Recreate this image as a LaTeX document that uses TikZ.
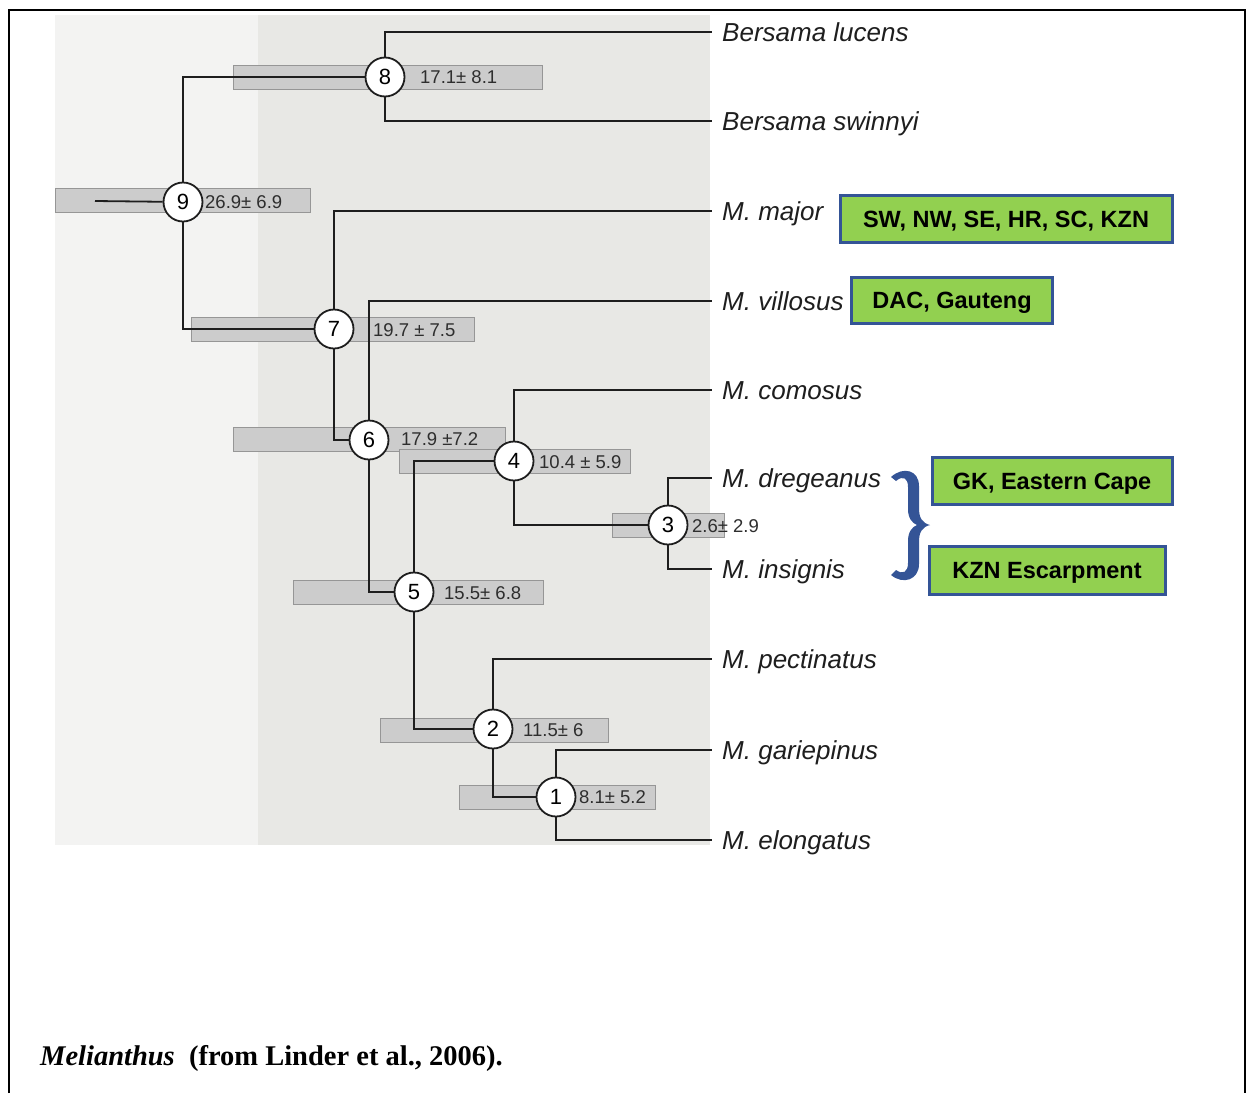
\documentclass[tikz,border=0pt]{standalone}
\usepackage{fontspec}
\setmainfont{Liberation Sans}
\newfontfamily\capfont{Liberation Serif}
\definecolor{panelA}{RGB}{243,243,242}
\definecolor{panelB}{RGB}{232,232,229}
\definecolor{barfill}{RGB}{204,204,204}
\definecolor{barline}{RGB}{150,150,150}
\definecolor{regfill}{RGB}{146,208,80}
\definecolor{regline}{RGB}{52,84,150}
\definecolor{ink}{RGB}{30,30,30}
\begin{document}
\begin{tikzpicture}[x=1pt,y=-1pt,
  branch/.style={line width=1.8pt, draw=ink},
  agebar/.style={draw=barline, fill=barfill, line width=1pt, anchor=west,
    minimum height=24pt, inner sep=0pt},
  clade/.style={circle, draw=ink, fill=white, line width=1.8pt,
    minimum size=39pt, inner sep=0pt, font=\fontsize{22}{22}\selectfont},
  age/.style={anchor=west, inner sep=0pt, text=black!82,
    font=\fontsize{18.5}{20}\selectfont},
  taxon/.style={anchor=west, inner xsep=10pt, inner ysep=0pt,
    text height=19pt, text depth=0pt, text=ink,
    font=\fontsize{26}{30}\selectfont\itshape},
  region/.style={draw=regline, fill=regfill, line width=3pt, inner sep=0pt,
    text height=17pt, text depth=0pt,
    font=\fontsize{23.5}{25}\selectfont\bfseries},
]
\useasboundingbox (0,0) rectangle (1247,1093);
\fill[white] (0,0) rectangle (1247,1093);

% shaded panel behind the tree
\fill[panelA] (55,15) rectangle (710,845);
\fill[panelB] (258,15) rectangle (710,845);

% frame
\draw[line width=2.5pt, black] (9,1093) -- (9,10) -- (1245,10) -- (1245,1093);

% age intervals
\node[agebar, minimum width=255pt] (b9) at (55,200.5) {};
\node[agebar, minimum width=309pt] (b8) at (233,77) {};
\node[agebar, minimum width=283pt] (b7) at (191,329) {};
\node[agebar, minimum width=272pt] (b6) at (233,439.5) {};
\node[agebar, minimum width=231pt] (b4) at (399,461) {};
\node[agebar, minimum width=112pt] (b3) at (612,525.5) {};
\node[agebar, minimum width=250pt] (b5) at (293,592.5) {};
\node[agebar, minimum width=228pt] (b2) at (380,730) {};
\node[agebar, minimum width=196pt] (b1) at (459,797.5) {};

% clade nodes
\node[clade] (n9) at (183,202) {9};
\node[clade] (n8) at (385,77) {8};
\node[clade] (n7) at (334,329) {7};
\node[clade] (n6) at (369,440) {6};
\node[clade] (n5) at (414,592) {5};
\node[clade] (n4) at (514,461) {4};
\node[clade] (n3) at (668,525) {3};
\node[clade] (n2) at (493,729) {2};
\node[clade] (n1) at (556,797) {1};

% ages
\node[age] (a9) at (205,202) {26.9± 6.9};
\node[age] (a8) at (420,77) {17.1± 8.1};
\node[age] (a7) at (373,330) {19.7 ± 7.5};
\node[age] (a6) at (401,439) {17.9 ±7.2};
\node[age] (a4) at (539,462) {10.4 ± 5.9};
\node[age] (a3) at (692,526) {2.6± 2.9};
\node[age] (a5) at (444,593) {15.5± 6.8};
\node[age] (a2) at (523,730) {11.5± 6};
\node[age] (a1) at (579,797) {8.1± 5.2};

% terminal taxa
\node[taxon] (lucens) at (712,32) {Bersama lucens};
\node[taxon] (swinnyi) at (712,121) {Bersama swinnyi};
\node[taxon] (major) at (712,211) {M. major};
\node[taxon] (villosus) at (712,301) {M. villosus};
\node[taxon] (comosus) at (712,390) {M. comosus};
\node[taxon] (dregeanus) at (712,478) {M. dregeanus};
\node[taxon] (insignis) at (712,569) {M. insignis};
\node[taxon] (pectinatus) at (712,659) {M. pectinatus};
\node[taxon] (gariepinus) at (712,750) {M. gariepinus};
\node[taxon] (elongatus) at (712,840) {M. elongatus};

% branches
\coordinate (root) at (95,201);
\draw[branch] (root) -- (n9);
\draw[branch] (n9) |- (n8);
\draw[branch] (n9) |- (n7);
\draw[branch] (n8) |- (lucens.west);
\draw[branch] (n8) |- (swinnyi.west);
\draw[branch] (n7) |- (major.west);
\draw[branch] (n7) |- (n6);
\draw[branch] (n6) |- (villosus.west);
\draw[branch] (n6) |- (n5);
\draw[branch] (n5) |- (n4);
\draw[branch] (n5) |- (n2);
\draw[branch] (n4) |- (comosus.west);
\draw[branch] (n4) |- (n3);
\draw[branch] (n3) |- (dregeanus.west);
\draw[branch] (n3) |- (insignis.west);
\draw[branch] (n2) |- (pectinatus.west);
\draw[branch] (n2) |- (n1);
\draw[branch] (n1) |- (gariepinus.west);
\draw[branch] (n1) |- (elongatus.west);

% distribution boxes
\node[region, minimum width=332pt, minimum height=47pt] (r1) at (1006,219) {SW, NW, SE, HR, SC, KZN};
\node[region, minimum width=201pt, minimum height=46pt] (r2) at (952,300) {DAC, Gauteng};
\node[region, minimum width=240pt, minimum height=47pt] (r3) at (1052,481) {GK, Eastern Cape};
\node[region, minimum width=236pt, minimum height=48pt] (r4) at (1047,570) {KZN Escarpment};

% brace joining the two sister species
\fill[regline] (891,477) .. controls (903,466) and (919,470) .. (919,486)
  -- (919,508) .. controls (919,518) and (922,523) .. (930,525)
  .. controls (922,527) and (919,532) .. (919,542)
  -- (919,564) .. controls (919,580) and (903,585) .. (891,575)
  -- (896,570) .. controls (903,575) and (908,572) .. (908,563)
  -- (908,541) .. controls (908,532) and (912,527) .. (917,525)
  .. controls (912,523) and (908,518) .. (908,509)
  -- (908,487) .. controls (908,478) and (903,475) .. (896,481) -- cycle;

% caption
\node[anchor=base west, inner sep=0pt, font=\capfont\fontsize{28.5}{30}\selectfont\bfseries] (caption)
  at (40,1065) {\textit{Melianthus}\ \ (from Linder et al., 2006).};
\end{tikzpicture}
\end{document}
